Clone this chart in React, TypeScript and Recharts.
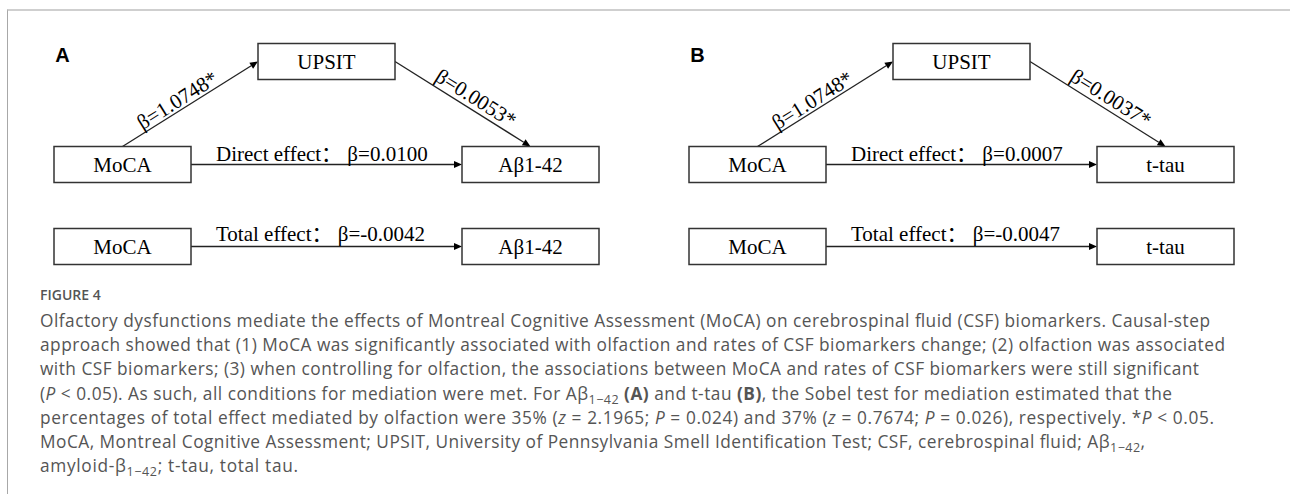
import React from "react";
import { ScatterChart, Scatter, XAxis, YAxis, ReferenceLine } from "recharts";

// mediation model values, one entry per panel
const panels = ["A", "B"];
const exposure = ["MoCA", "MoCA"];
const mediator = ["UPSIT", "UPSIT"];
const outcomes = ["Aβ1-42", "t-tau"];
const pathA = [1.0748, 1.0748];
const pathB = [0.0053, 0.0037];
const directEffect = [0.01, 0.0007];
const totalEffect = [-0.0042, -0.0047];
const pathASig = [true, true];
const pathBSig = [true, true];

// caption text, one entry per printed line
type Seg = { t: string; i?: boolean; b?: boolean; sub?: boolean };
const captionLines: Seg[][] = [
  [{ t: "Olfactory dysfunctions mediate the effects of Montreal Cognitive Assessment (MoCA) on cerebrospinal fluid (CSF) biomarkers. Causal-step" }],
  [{ t: "approach showed that (1) MoCA was significantly associated with olfaction and rates of CSF biomarkers change; (2) olfaction was associated" }],
  [{ t: "with CSF biomarkers; (3) when controlling for olfaction, the associations between MoCA and rates of CSF biomarkers were still significant" }],
  [
    { t: "(" }, { t: "P", i: true }, { t: " < 0.05). As such, all conditions for mediation were met. For Aβ" }, { t: "1−42", sub: true },
    { t: " " }, { t: "(A)", b: true }, { t: " and t-tau " }, { t: "(B)", b: true },
    { t: ", the Sobel test for mediation estimated that the" },
  ],
  [
    { t: "percentages of total effect mediated by olfaction were 35% (" }, { t: "z", i: true }, { t: " = 2.1965; " },
    { t: "P", i: true }, { t: " = 0.024) and 37% (" }, { t: "z", i: true }, { t: " = 0.7674; " }, { t: "P", i: true },
    { t: " = 0.026), respectively. *" }, { t: "P", i: true }, { t: " < 0.05." },
  ],
  [{ t: "MoCA, Montreal Cognitive Assessment; UPSIT, University of Pennsylvania Smell Identification Test; CSF, cerebrospinal fluid; Aβ" }, { t: "1−42", sub: true }, { t: "," }],
  [{ t: "amyloid-β" }, { t: "1−42", sub: true }, { t: "; t-tau, total tau." }],
];
const captionEnds = [1210, 1225, 1199, 1172, 1214, 1145, 298];

const W = 1290;
const H = 498;
const COL_PX = 204;
const ROW_PX = 103;
const X0_PX = 122.5;
const Y0_PX = 164.5;
const PANEL_SHIFT = 635 / COL_PX;
const BOX_W = 137;
const BOX_H = 36;
const ROW_MED = 1;
const ROW_DIRECT = 0;
const ROW_TOTAL = -82 / ROW_PX;
const halfW = BOX_W / 2 / COL_PX;
const halfH = BOX_H / 2 / ROW_PX;

const serif = "'Liberation Serif', 'Times New Roman', 'Noto Sans CJK SC', serif";
const sans = "'Open Sans', 'Noto Sans', sans-serif";

const fmt = (v: number, sig?: boolean) => `β=${v.toFixed(4)}${sig ? "*" : ""}`;

const nodes = panels.flatMap((p, i) => {
  const s = i * PANEL_SHIFT;
  return [
    { x: s, y: ROW_DIRECT, name: exposure[i] },
    { x: s + 1, y: ROW_MED, name: mediator[i] },
    { x: s + 2, y: ROW_DIRECT, name: outcomes[i] },
    { x: s, y: ROW_TOTAL, name: exposure[i] },
    { x: s + 2, y: ROW_TOTAL, name: outcomes[i] },
  ];
});
const panelLabels = panels.map((p, i) => ({ x: i * PANEL_SHIFT - 0.33, y: ROW_MED, name: p }));

const Box = (props: any) => {
  const { cx, cy, payload } = props;
  return (
    <g>
      <rect x={cx - BOX_W / 2} y={cy - BOX_H / 2} width={BOX_W} height={BOX_H} fill="#fff" stroke="#333" strokeWidth={1.5} />
      <text x={cx} y={cy + 7.5} textAnchor="middle" fontFamily={serif} fontSize={21} fill="#000">
        {payload.name}
      </text>
    </g>
  );
};

const PanelLetter = (props: any) => {
  const { cx, cy, payload } = props;
  return (
    <text x={cx} y={cy} fontFamily="'Liberation Sans', Arial, sans-serif" fontWeight="bold" fontSize={20} fill="#000">
      {payload.name}
    </text>
  );
};

const arrow = (label: string, kind: "diag" | "flat", along = 0, offset = 4) => (props: any) => {
  const { x1, y1, x2, y2 } = props;
  const ang = Math.atan2(y2 - y1, x2 - x1);
  const ux = Math.cos(ang);
  const uy = Math.sin(ang);
  const L = 8;
  const hw = 3.5;
  const bx = x2 - ux * L;
  const by = y2 - uy * L;
  const head = `${x2},${y2} ${bx - uy * hw},${by + ux * hw} ${bx + uy * hw},${by - ux * hw}`;
  let text = null;
  if (kind === "diag") {
    const tx = (x1 + x2) / 2 + ux * along + uy * offset;
    const ty = (y1 + y2) / 2 + uy * along - ux * offset;
    text = (
      <text x={tx} y={ty} textAnchor="middle" fontFamily={serif} fontSize={21} fill="#000"
        transform={`rotate(${(ang * 180) / Math.PI} ${tx} ${ty})`}>
        {label}
      </text>
    );
  } else {
    text = (
      <text x={x1 + 25} y={y1 - offset} fontFamily={serif} fontSize={21} fill="#000">
        {label}
      </text>
    );
  }
  return (
    <g>
      <line x1={x1} y1={y1} x2={bx} y2={by} stroke="#222" strokeWidth={1.3} />
      <polygon points={head} fill="#000" />
      {text}
    </g>
  );
};

export default function App() {
  return (
    <div style={{ position: "absolute", left: 0, top: 0, width: W, height: H, background: "#fff" }}>
      <div style={{ position: "absolute", left: 7, top: 9, width: W - 7, height: 483, borderTop: "2px solid #cfcfcf", borderLeft: "1px solid #a8a8a8" }} />
      <div style={{ position: "absolute", left: 0, top: 0 }}>
        <ScatterChart width={W} height={H} margin={{ top: 0, right: 0, bottom: 0, left: 0 }}>
          <XAxis type="number" dataKey="x" hide domain={[-X0_PX / COL_PX, (W - X0_PX) / COL_PX]} allowDataOverflow />
          <YAxis type="number" dataKey="y" hide domain={[-(H - Y0_PX) / ROW_PX, Y0_PX / ROW_PX]} allowDataOverflow />
          {panels.map((p, i) => {
            const s = i * PANEL_SHIFT;
            return (
              <React.Fragment key={p}>
                <ReferenceLine ifOverflow="visible" segment={[{ x: s, y: ROW_DIRECT + halfH }, { x: s + 1 - halfW, y: ROW_MED }]}
                  shape={arrow(fmt(pathA[i], pathASig[i]), "diag", -9, 3)} />
                <ReferenceLine ifOverflow="visible" segment={[{ x: s + 1 + halfW, y: ROW_MED }, { x: s + 2, y: ROW_DIRECT + halfH }]}
                  shape={arrow(fmt(pathB[i], pathBSig[i]), "diag", 8, 5)} />
                <ReferenceLine ifOverflow="visible" segment={[{ x: s + halfW, y: ROW_DIRECT }, { x: s + 2 - halfW, y: ROW_DIRECT }]}
                  shape={arrow(`Direct effect：\u00a0${fmt(directEffect[i])}`, "flat", 0, 3.5)} />
                <ReferenceLine ifOverflow="visible" segment={[{ x: s + halfW, y: ROW_TOTAL }, { x: s + 2 - halfW, y: ROW_TOTAL }]}
                  shape={arrow(`Total effect：\u00a0${fmt(totalEffect[i])}`, "flat", 0, 5.5)} />
              </React.Fragment>
            );
          })}
          <Scatter data={nodes} shape={<Box />} isAnimationActive={false} />
          <Scatter data={panelLabels} shape={<PanelLetter />} isAnimationActive={false} />
        </ScatterChart>
      </div>
      <svg width={W} height={H} style={{ position: "absolute", left: 0, top: 0, pointerEvents: "none" }}>
        <text x={40} y={300} fontFamily={sans} fontSize={14} fontWeight={600} fill="#555">FIGURE 4</text>
        {captionLines.map((segs, li) => (
          <text key={li} x={40} y={327 + li * 24.2} fontFamily={sans} fontSize={17.3} fill="#555"
            textLength={captionEnds[li] - 40} lengthAdjust="spacing">
            {segs.map((s, k) => (
              <tspan key={k} fontStyle={s.i ? "italic" : undefined} fontWeight={s.b ? 700 : undefined}
                fontSize={s.sub ? 12.5 : undefined} dy={s.sub ? 4 : k > 0 && segs[k - 1].sub ? -4 : undefined}>
                {s.t}
              </tspan>
            ))}
          </text>
        ))}
      </svg>
    </div>
  );
}
